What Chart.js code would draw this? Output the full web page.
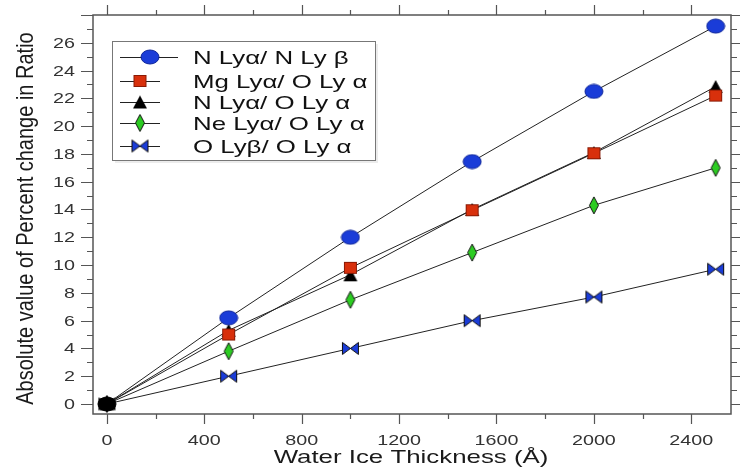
<!DOCTYPE html>
<html>
<head>
<meta charset="utf-8">
<script src="https://cdn.jsdelivr.net/npm/chart.js@4.4.1/dist/chart.umd.min.js"></script>
<style>
  html, body { margin: 0; padding: 0; background: #fff; }
  #wrap { width: 740px; height: 470px; }
</style>
</head>
<body>
<div id="wrap"><canvas id="chart"></canvas></div>
<script>
// water ice thickness (Å) and ratio changes (%)
const thickness = [0, 500, 1000, 1500, 2000, 2500];
const nLyaNLyb = [0, 6.2, 12.0, 17.45, 22.5, 27.2];
const mgLyaOLya = [0, 5.0, 9.8, 13.95, 18.05, 22.2];
const nLyaOLya = [0, 5.3, 9.3, 14.0, 18.1, 22.85];
const neLyaOLya = [0, 3.8, 7.5, 10.9, 14.3, 17.0];
const oLybOLya = [0, 2.0, 4.0, 6.0, 7.7, 9.7];

const seriesLabels = [
  "N Lyα/ N Ly β",
  "Mg Lyα/ O Ly α",
  "N Lyα/ O Ly α",
  "Ne Lyα/ O Ly α",
  "O Lyβ/ O Ly α",
];

const xTicks = [0, 400, 800, 1200, 1600, 2000, 2400];
const yTicks = [0, 2, 4, 6, 8, 10, 12, 14, 16, 18, 20, 22, 24, 26];

const xTitle = "Water Ice Thickness (Å)";
const yTitle = "Absolute value of Percent change in Ratio";

const FONT = "'Liberation Sans', Arial, Helvetica, sans-serif";
const AXIS_COLOR = "#555";
const STRETCH = 1.36; // all lettering is drawn wide

function makeMarker(w, h, draw) {
  const c = document.createElement("canvas");
  c.width = w;
  c.height = h;
  draw(c.getContext("2d"), w, h);
  return c;
}

function ellipse(fill, stroke) {
  return makeMarker(20, 16, (ctx, w, h) => {
    ctx.beginPath();
    ctx.ellipse(w / 2, h / 2, 9, 7, 0, 0, Math.PI * 2);
    ctx.fillStyle = fill;
    ctx.fill();
    ctx.strokeStyle = stroke;
    ctx.lineWidth = 1;
    ctx.stroke();
  });
}
function square(fill, stroke) {
  return makeMarker(15, 14, (ctx, w, h) => {
    ctx.fillStyle = fill;
    ctx.fillRect(1, 1, w - 2, h - 2);
    ctx.strokeStyle = stroke;
    ctx.lineWidth = 1;
    ctx.strokeRect(1.5, 1.5, w - 3, h - 3);
  });
}
function triangle(fill) {
  return makeMarker(16, 15, (ctx, w, h) => {
    ctx.beginPath();
    ctx.moveTo(w / 2, 1);
    ctx.lineTo(w - 1, h - 1);
    ctx.lineTo(1, h - 1);
    ctx.closePath();
    ctx.fillStyle = fill;
    ctx.fill();
  });
}
function diamond(fill, stroke) {
  return makeMarker(12, 19, (ctx, w, h) => {
    ctx.beginPath();
    ctx.moveTo(w / 2, 1);
    ctx.lineTo(w - 1.5, h / 2);
    ctx.lineTo(w / 2, h - 1);
    ctx.lineTo(1.5, h / 2);
    ctx.closePath();
    ctx.fillStyle = fill;
    ctx.fill();
    ctx.strokeStyle = stroke;
    ctx.lineWidth = 1;
    ctx.stroke();
  });
}
function bowtie(fill, stroke) {
  return makeMarker(19, 15, (ctx, w, h) => {
    ctx.beginPath();
    ctx.moveTo(1.5, 1.5);
    ctx.lineTo(w / 2, h / 2);
    ctx.lineTo(1.5, h - 1.5);
    ctx.closePath();
    ctx.moveTo(w - 1.5, 1.5);
    ctx.lineTo(w / 2, h / 2);
    ctx.lineTo(w - 1.5, h - 1.5);
    ctx.closePath();
    ctx.fillStyle = fill;
    ctx.fill();
    ctx.strokeStyle = stroke;
    ctx.lineWidth = 1;
    ctx.stroke();
  });
}

const markers = [
  { main: ellipse("#1a3cd8", "#0d2499"), zero: ellipse("#000", "#000") },
  { main: square("#d8300c", "#8a1a05"), zero: square("#000", "#000") },
  { main: triangle("#000"), zero: triangle("#000") },
  { main: diamond("#2ccc22", "#111"), zero: diamond("#000", "#000") },
  { main: bowtie("#1a3cd8", "#111"), zero: bowtie("#000", "#000") },
];

const seriesValues = [nLyaNLyb, mgLyaOLya, nLyaOLya, neLyaOLya, oLybOLya];

const datasets = seriesValues.map((vals, i) => ({
  label: seriesLabels[i],
  data: vals.map((v, k) => ({ x: thickness[k], y: v })),
  borderColor: "#222",
  borderWidth: 1,
  tension: 0,
  fill: false,
  clip: false,
  pointRadius: 8,
  pointStyle: (ctx) => (ctx.dataIndex === 0 ? markers[i].zero : markers[i].main),
}));

// horizontally widened text, anchored at (x, baseline)
function wideText(ctx, text, x, y, align, size, color) {
  ctx.save();
  ctx.font = size + "px " + FONT;
  ctx.fillStyle = color;
  ctx.textBaseline = "alphabetic";
  ctx.textAlign = "left";
  const w = ctx.measureText(text).width * STRETCH;
  const left = align === "center" ? x - w / 2 : align === "right" ? x - w : x;
  ctx.translate(left, y);
  ctx.scale(STRETCH, 1);
  ctx.fillText(text, 0, 0);
  ctx.restore();
}

// frame plus major/minor tick marks on all four sides
const frameTicks = {
  id: "frameTicks",
  beforeDatasetsDraw(chart) {
    const { ctx, chartArea: a, scales } = chart;
    const x = scales.x;
    const y = scales.y;
    ctx.save();
    ctx.strokeStyle = AXIS_COLOR;
    ctx.lineWidth = 1.5;
    ctx.strokeRect(a.left, a.top, a.right - a.left, a.bottom - a.top);
    ctx.lineWidth = 1.2;
    ctx.beginPath();
    for (let v = 0; v <= 2500; v += 200) {
      const px = Math.round(x.getPixelForValue(v)) + 0.5;
      const len = v % 400 === 0 ? 10 : 5;
      ctx.moveTo(px, a.bottom);
      ctx.lineTo(px, a.bottom + len);
      ctx.moveTo(px, a.top);
      ctx.lineTo(px, a.top - len);
    }
    for (let v = 0; v <= 28; v += 1) {
      const py = Math.round(y.getPixelForValue(v)) + 0.5;
      const len = v % 2 === 0 ? 12 : 6;
      ctx.moveTo(a.left, py);
      ctx.lineTo(a.left - len, py);
      ctx.moveTo(a.right, py);
      ctx.lineTo(a.right + len, py);
    }
    ctx.stroke();
    ctx.restore();
  },
};

// tick labels and axis titles
const axisText = {
  id: "axisText",
  afterDraw(chart) {
    const { ctx, chartArea: a, scales } = chart;
    const x = scales.x;
    const y = scales.y;
    xTicks.forEach((v) => {
      wideText(ctx, String(v), x.getPixelForValue(v), a.bottom + 31, "center", 14.5, "#333");
    });
    yTicks.forEach((v) => {
      wideText(ctx, String(v), a.left - 18, y.getPixelForValue(v) + 5, "right", 14.5, "#333");
    });
    wideText(ctx, xTitle, (a.left + a.right) / 2 - 1, a.bottom + 49, "center", 19, "#1a1a1a");

    ctx.save();
    ctx.font = "20px " + FONT;
    ctx.fillStyle = "#1a1a1a";
    ctx.textAlign = "center";
    ctx.textBaseline = "alphabetic";
    ctx.translate(33, (a.top + a.bottom) / 2 + 4);
    ctx.rotate(-Math.PI / 2);
    ctx.scale(1, 1.2);
    ctx.fillText(yTitle, 0, 0);
    ctx.restore();
  },
};

// boxed legend in the upper left of the plot
const boxLegend = {
  id: "boxLegend",
  afterDraw(chart) {
    const { ctx } = chart;
    const box = { left: 112, top: 41, right: 375, bottom: 160 };
    const rows = [57, 81, 102, 123, 146];
    const lineEnd = [178, 160, 160, 160, 160];
    const markX = [150, 140, 140, 140, 140];
    ctx.save();
    ctx.fillStyle = "#ececec";
    ctx.fillRect(box.left + 3, box.top + 3, box.right - box.left, box.bottom - box.top);
    ctx.fillStyle = "#fff";
    ctx.fillRect(box.left, box.top, box.right - box.left, box.bottom - box.top);
    ctx.strokeStyle = "#777";
    ctx.lineWidth = 1;
    ctx.strokeRect(box.left + 0.5, box.top + 0.5, box.right - box.left, box.bottom - box.top);
    chart.data.datasets.forEach((ds, i) => {
      const ry = rows[i];
      ctx.strokeStyle = "#222";
      ctx.lineWidth = 1;
      ctx.beginPath();
      ctx.moveTo(120, ry + 0.5);
      ctx.lineTo(lineEnd[i], ry + 0.5);
      ctx.stroke();
      const m = markers[i].main;
      ctx.drawImage(m, markX[i] - m.width / 2, ry - m.height / 2);
      wideText(ctx, ds.label, 193, ry + 6.5, "left", 19, "#111");
    });
    ctx.restore();
  },
};

new Chart(document.getElementById("chart"), {
  type: "line",
  data: { datasets },
  plugins: [frameTicks, axisText, boxLegend],
  options: {
    responsive: true,
    maintainAspectRatio: false,
    animation: false,
    layout: { padding: { top: 15, right: 7, left: 0, bottom: 0 } },
    plugins: { legend: { display: false }, tooltip: { enabled: false } },
    scales: {
      x: {
        type: "linear",
        position: "bottom",
        min: -57,
        max: 2563,
        grid: { display: false, drawTicks: false },
        border: { display: false },
        ticks: { display: false },
        afterFit: (s) => { s.height = 56; s.paddingLeft = 0; s.paddingRight = 0; },
      },
      y: {
        type: "linear",
        position: "left",
        min: -0.72,
        max: 28,
        grid: { display: false, drawTicks: false },
        border: { display: false },
        ticks: { display: false },
        afterFit: (s) => { s.width = 93; s.paddingTop = 0; s.paddingBottom = 0; },
      },
    },
  },
});
</script>
</body>
</html>
